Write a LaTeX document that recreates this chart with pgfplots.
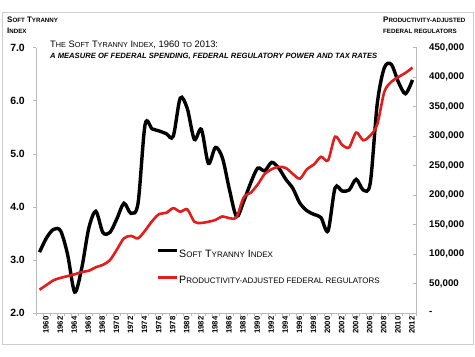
\documentclass[border=0pt]{standalone}
\usepackage{pgfplots}
\usepackage{pgfplotstable}
\pgfplotsset{compat=1.18}
\usepackage{fontspec}
\setmainfont{Liberation Sans}
\definecolor{axgray}{RGB}{185,185,185}
\definecolor{framegray}{RGB}{205,205,205}
\definecolor{redline}{RGB}{228,28,28}
\newcommand{\ax}[1]{{\fontsize{6.2}{7}\selectfont #1}}
\newcommand{\tsm}[1]{{\fontsize{7.3}{8}\selectfont #1}}
\newcommand{\lsc}[1]{{\fontsize{8}{9}\selectfont #1}}

\pgfplotstableread{
year idx
1960 3.15
1961 3.42
1962 3.58
1963 3.55
1964 3.10
1965 2.40
1966 2.85
1967 3.60
1968 3.92
1969 3.52
1970 3.52
1971 3.78
1972 4.07
1973 3.88
1974 4.07
1975 5.55
1976 5.47
1977 5.43
1978 5.38
1979 5.33
1980 6.05
1981 5.85
1982 5.27
1983 5.46
1984 4.82
1985 5.12
1986 4.92
1987 4.32
1988 3.82
1989 4.10
1990 4.45
1991 4.73
1992 4.68
1993 4.84
1994 4.73
1995 4.52
1996 4.35
1997 4.07
1998 3.93
1999 3.86
2000 3.80
2001 3.55
2002 4.36
2003 4.30
2004 4.32
2005 4.52
2006 4.32
2007 4.45
2008 5.95
2009 6.62
2010 6.68
2011 6.35
2012 6.13
2013 6.39
}\softidx

\pgfplotstableread{
year reg
1960 40000
1961 48000
1962 56000
1963 60000
1964 63000
1965 66000
1966 70000
1967 72000
1968 78000
1969 82000
1970 90000
1971 108000
1972 127000
1973 131000
1974 127000
1975 140000
1976 156000
1977 168000
1978 170000
1979 178000
1980 172000
1981 176000
1982 155000
1983 153000
1984 155000
1985 158000
1986 164000
1987 161000
1988 163000
1989 196000
1990 204000
1991 218000
1992 236000
1993 244000
1994 248000
1995 246000
1996 236000
1997 228000
1998 244000
1999 252000
2000 265000
2001 259000
2002 299000
2003 285000
2004 281000
2005 306000
2006 293000
2007 301000
2008 320000
2009 375000
2010 392000
2011 400000
2012 407000
2013 416000
}\regs

\begin{document}
\begin{tikzpicture}[x=1bp,y=1bp]
\useasboundingbox (-36,-42.7) rectangle (439,313.3);
\fill[white] (-36,-42.7) rectangle (439,313.3);
\draw[framegray, line width=0.8bp] (-34,-30.7) rectangle (437,301.3);

\begin{axis}[
  at={(0,0)}, anchor=south west,
  scale only axis, width=380bp, height=265.8bp,
  xmin=1959.5, xmax=2013.5, ymin=2, ymax=7,
  axis x line*=bottom, axis y line*=left,
  axis line style={draw=axgray, line width=0.8bp},
  xtick={1960,1962,...,2012},
  minor xtick={1959.5,1960.5,...,2013.5},
  major x tick style={draw=none},
  minor x tick style={draw=axgray, line width=0.6bp},
  minor tick length=3bp,
  major tick length=3bp,
  tick align=outside,
  ytick={2,3,...,7},
  yticklabels={2.0,3.0,4.0,5.0,6.0,7.0},
  ytick style={draw=axgray, line width=0.6bp},
  /pgf/number format/assume math mode=true,
  xticklabel style={rotate=90, anchor=east, inner sep=0pt, yshift=-6.5bp, font=\bfseries\fontsize{7.8}{8}\selectfont, /pgf/number format/1000 sep=},
  yticklabel style={font=\bfseries\fontsize{10.5}{12}\selectfont, anchor=east, inner sep=0pt, xshift=-8bp},
]
\addplot[black, line width=3.4bp, smooth, tension=0.5] table[x=year,y=idx]{\softidx};
\end{axis}

\begin{axis}[
  at={(0,0)}, anchor=south west,
  scale only axis, width=380bp, height=265.8bp,
  xmin=1959.5, xmax=2013.5, ymin=0, ymax=450000,
  axis x line=none, axis y line*=right,
  axis line style={draw=axgray, line width=0.8bp},
  ytick={0,50000,100000,150000,200000,250000,300000,350000,400000,450000},
  yticklabels={{-},{50,000},{100,000},{150,000},{200,000},{250,000},{300,000},{350,000},{400,000},{450,000}},
  scaled y ticks=false,
  ytick style={draw=axgray, line width=0.6bp},
  tick align=inside, major tick length=3bp,
  yticklabel style={font=\bfseries\fontsize{9.7}{12}\selectfont, anchor=west, inner sep=0pt, xshift=13bp},
  legend style={at={(rel axis cs:0.3158,0.2437)}, anchor=north west, draw=none, fill=none,
    inner sep=0pt, row sep=15.5bp,
    nodes={inner sep=0.6bp, text height=7.7bp, text depth=2.3bp, font=\fontsize{10.7}{12}\selectfont}},
  legend cell align=left,
  legend image code/.code={\draw[#1] (0bp,3.6bp) -- (19bp,3.6bp);},
]
\addlegendimage{black, line width=3.4bp}
\addlegendentry{S\lsc{OFT} T\lsc{YRANNY} I\lsc{NDEX}}
\addplot[redline, line width=2.6bp, smooth, tension=0.5] table[x=year,y=reg]{\regs};
\addlegendentry{P\lsc{RODUCTIVITY-ADJUSTED FEDERAL REGULATORS}}
\end{axis}

\node[anchor=base west, inner sep=0pt, font=\bfseries\fontsize{8}{9}\selectfont] at (-29,290.6) {S\ax{OFT} T\ax{YRANNY}};
\node[anchor=base west, inner sep=0pt, font=\bfseries\fontsize{8}{9}\selectfont] at (-29,280) {I\ax{NDEX}};
\node[anchor=base west, inner sep=0pt, font=\bfseries\fontsize{8}{9}\selectfont] at (347,290.6) {P\ax{RODUCTIVITY-ADJUSTED}};
\node[anchor=base west, inner sep=0pt, font=\bfseries\fontsize{8}{9}\selectfont] at (347,280) {\ax{FEDERAL REGULATORS}};
\node[anchor=base west, inner sep=0pt, font=\fontsize{9.4}{11}\selectfont] at (14,266) {T\tsm{HE} S\tsm{OFT} T\tsm{YRANNY} I\tsm{NDEX}, 1960 \tsm{TO} 2013:};
\node[anchor=base west, inner sep=0pt, font=\bfseries\itshape\fontsize{7.65}{9}\selectfont] at (14,255) {A MEASURE OF FEDERAL SPENDING, FEDERAL REGULATORY POWER AND TAX RATES};
\end{tikzpicture}
\end{document}
